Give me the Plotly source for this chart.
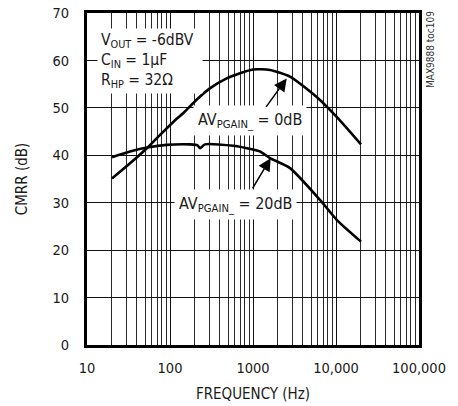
import plotly.graph_objects as go

# CMRR vs frequency, two PGAIN settings
f_0db = [20, 33, 55, 76, 115, 145, 209, 302, 482, 697, 1000, 1600, 2790, 5850, 10190, 20000]
cmrr_0db = [35.1, 38.3, 41.8, 44.3, 47.4, 48.9, 51.7, 54.1, 56.2, 57.3, 58.1, 58.0, 56.6, 52.3, 48.1, 42.3]

f_20db = [20, 33, 55, 91, 174, 215, 230, 264, 579, 1000, 1214, 1603, 2790, 6415, 10190, 20000]
cmrr_20db = [39.6, 40.8, 41.7, 42.2, 42.3, 42.1, 41.5, 42.3, 42.0, 41.2, 40.8, 39.4, 37.3, 30.6, 26.4, 21.8]

x_tickvals = [10, 100, 1000, 10000, 100000]
x_ticktext = ["10", "100", "1000", "10,000", "100,000"]
y_tickvals = [0, 10, 20, 30, 40, 50, 60, 70]

FONT = "DejaVu Sans Condensed, Liberation Sans Narrow, Arial Narrow, sans-serif"
INK = "#1a1a1a"

fig = go.Figure()
for fx, fy in ((f_0db, cmrr_0db), (f_20db, cmrr_20db)):
    fig.add_trace(go.Scatter(
        x=fx, y=fy, mode="lines",
        line=dict(color="black", width=2.6, shape="spline", smoothing=0.6),
        showlegend=False, hoverinfo="skip",
    ))

fig.update_layout(
    width=458, height=406,
    margin=dict(l=87, r=39, t=13, b=61),
    paper_bgcolor="white", plot_bgcolor="white",
    font=dict(family=FONT, size=14, color=INK),
    xaxis=dict(
        type="log", range=[1, 5], automargin=False,
        tickvals=x_tickvals, ticktext=x_ticktext,
        showgrid=True, gridcolor="#111", gridwidth=1.4,
        minor=dict(dtick="D1", showgrid=True, gridcolor="#2a2a2a", gridwidth=1, ticks=""),
        showline=True, linecolor="black", linewidth=3, mirror=True,
        ticks="", ticklen=0, zeroline=False, ticklabelstandoff=8,
        tickfont=dict(size=14.5),
        title=dict(text="FREQUENCY (Hz)", font=dict(size=15), standoff=14),
    ),
    yaxis=dict(
        range=[0, 70], tickvals=y_tickvals, automargin=False,
        showgrid=True, gridcolor="#111", gridwidth=1.3,
        showline=True, linecolor="black", linewidth=3, mirror=True,
        ticks="", zeroline=False, ticklabelstandoff=12,
        tickfont=dict(size=14.5),
        title=dict(text="CMRR (dB)", font=dict(size=15), standoff=22),
    ),
)

box = dict(bgcolor="white", showarrow=False, font=dict(size=16, family=FONT, color=INK))

# test conditions in a fixed-size white panel
fig.add_annotation(
    x=0.03, y=0.855, xref="paper", yref="paper", xanchor="left", yanchor="middle",
    align="left", valign="middle", width=98, height=58, borderpad=3,
    text="V<sub>OUT</sub> = -6dBV<br>C<sub>IN</sub> = 1µF<br>R<sub>HP</sub> = 32Ω",
    bgcolor="white", showarrow=False, font=dict(size=15.5, family=FONT, color=INK),
)
fig.add_annotation(
    x=0.491, y=0.675, xref="paper", yref="paper", xanchor="center", yanchor="middle",
    borderpad=4, text="AV<sub>PGAIN_</sub> = 0dB", **box,
)
fig.add_annotation(
    x=0.446, y=0.422, xref="paper", yref="paper", xanchor="center", yanchor="middle",
    borderpad=4, text="AV<sub>PGAIN_</sub> = 20dB", **box,
)

# pointer arrows from labels to curves
arrow = dict(xref="x", yref="y", axref="x", ayref="y", text="", showarrow=True,
             arrowhead=2, arrowsize=1.7, arrowwidth=1.5, arrowcolor="black")
fig.add_annotation(x=3.406, y=56.2, ax=3.145, ay=49.9, **arrow)
fig.add_annotation(x=3.213, y=39.4, ax=2.984, ay=32.7, **arrow)

# side tag, centred 11 px right of the plot frame
fig.add_annotation(
    x=(430 - 87) / 332, y=(345 - 50) / 332, xref="paper", yref="paper",
    xanchor="center", yanchor="middle", showarrow=False,
    text="MAX9888 toc109", textangle=-90,
    font=dict(size=10, family=FONT, color="#333"),
)

fig.write_html("out.html")
